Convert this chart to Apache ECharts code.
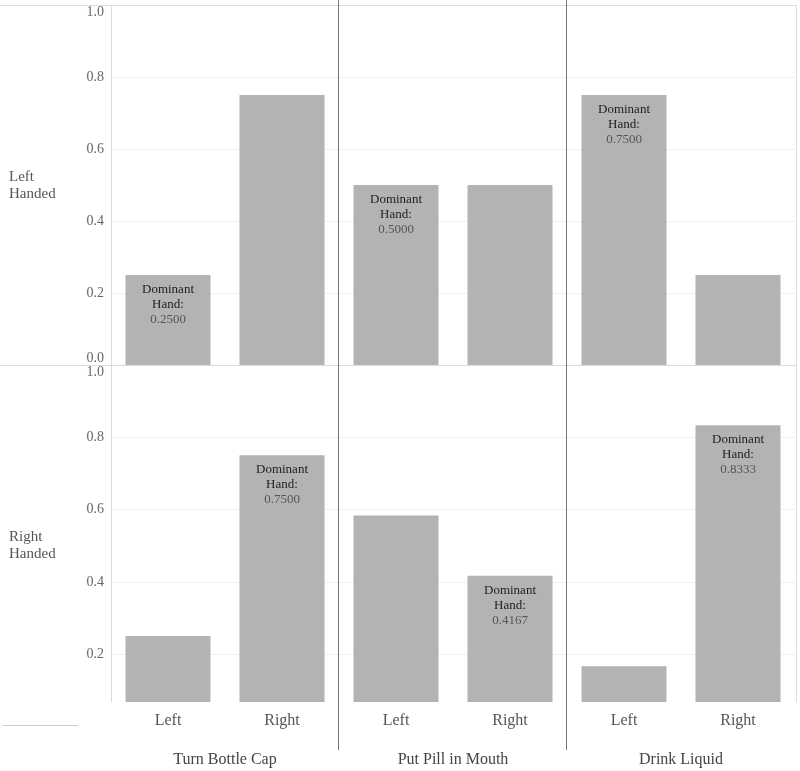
<!DOCTYPE html>
<html>
<head>
<meta charset="utf-8">
<script src="https://cdn.jsdelivr.net/npm/echarts@6/dist/echarts.min.js"></script>
<style>html,body{margin:0;padding:0;background:#fff}#c{width:800px;height:771px}</style>
</head>
<body>
<div id="c"></div>
<script>
const rowNames = ['Left\nHanded', 'Right\nHanded'];
const tasks = ['Turn Bottle Cap', 'Put Pill in Mouth', 'Drink Liquid'];
const hands = ['Left', 'Right'];
// values per task: [Left, Right]
const leftHandedValues = [[0.25, 0.75], [0.5, 0.5], [0.75, 0.25]];
const rightHandedValues = [[0.25, 0.75], [0.5833, 0.4167], [0.1667, 0.8333]];
const dominantHand = ['Left', 'Right']; // dominant hand for each row
const topTicks = [0, 0.2, 0.4, 0.6, 0.8, 1.0];
const bottomTicks = [0.2, 0.4, 0.6, 0.8, 1.0];
const bottomMin = 0.0675;

const FONT = '"Liberation Serif", "Times New Roman", serif';
const rowValues = [leftHandedValues, rightHandedValues];

const colLeft = [111, 339, 567];
const colWidth = 228;
const rowTop = [5, 365];
const rowHeight = [360, 337];

const grids = [], xAxes = [], yAxes = [], series = [];
let idx = 0;
for (let r = 0; r < 2; r++) {
  for (let c = 0; c < 3; c++) {
    grids.push({ left: colLeft[c], top: rowTop[r], width: colWidth, height: rowHeight[r], containLabel: false });
    xAxes.push({
      gridIndex: idx, type: 'category', data: hands,
      axisLine: { show: false }, axisTick: { show: false },
      axisLabel: { show: r === 1, fontFamily: FONT, fontSize: 16, color: '#555', margin: 11 },
      name: r === 1 ? tasks[c] : '', nameLocation: 'middle', nameGap: 50,
      nameTextStyle: { fontFamily: FONT, fontSize: 16, color: '#444' }
    });
    const y = {
      gridIndex: idx, type: 'value', max: 1,
      axisLine: { show: c === 0, lineStyle: { color: '#dcdcdc' } },
      splitLine: { show: true, lineStyle: { color: '#f0f0f0' } },
      axisLabel: {
        show: c === 0, fontFamily: FONT, fontSize: 14, color: '#666', margin: 7,
        formatter: v => v.toFixed(1), verticalAlignMaxLabel: 'top', padding: [0, 0, 0, 0]
      }
    };
    if (r === 0) {
      y.min = 0; y.interval = 0.2;
      y.axisLabel.verticalAlignMinLabel = 'bottom';
      y.axisTick = { show: false };
    } else {
      y.min = bottomMin;
      y.axisTick = { show: false, customValues: bottomTicks };
      y.axisLabel.customValues = bottomTicks;
    }
    yAxes.push(y);
    const vals = rowValues[r][c];
    series.push({
      type: 'bar', xAxisIndex: idx, yAxisIndex: idx, barWidth: 85,
      itemStyle: { color: '#b3b3b3' },
      data: hands.map((h, i) => ({
        value: vals[i],
        label: {
          show: h === dominantHand[r], position: 'insideTop', distance: 7,
          formatter: p => '{a|Dominant}\n{a|Hand:}\n{b|' + p.value.toFixed(4) + '}',
          rich: {
            a: { fontFamily: FONT, fontSize: 13, color: '#222', lineHeight: 15 },
            b: { fontFamily: FONT, fontSize: 13, color: '#555', lineHeight: 15 }
          }
        }
      }))
    });
    idx++;
  }
}

const lineStyleLight = { stroke: '#dcdcdc', lineWidth: 1 };
const graphic = [
  { type: 'line', shape: { x1: 0, y1: 5.5, x2: 796, y2: 5.5 }, style: lineStyleLight, z: 1 },
  { type: 'line', shape: { x1: 0, y1: 365.5, x2: 796, y2: 365.5 }, style: lineStyleLight, z: 1 },
  { type: 'line', shape: { x1: 796.5, y1: 5, x2: 796.5, y2: 702 }, style: lineStyleLight, z: 1 },
  { type: 'line', shape: { x1: 3, y1: 725.5, x2: 78, y2: 725.5 }, style: { stroke: '#cccccc', lineWidth: 1 }, z: 1 },
  { type: 'line', shape: { x1: 338.5, y1: 0, x2: 338.5, y2: 750 }, style: { stroke: '#777', lineWidth: 1 }, z: 10 },
  { type: 'line', shape: { x1: 566.5, y1: 0, x2: 566.5, y2: 750 }, style: { stroke: '#777', lineWidth: 1 }, z: 10 },
  { type: 'text', left: 9, top: 169, style: { text: rowNames[0], font: '15px ' + FONT, fill: '#555', lineHeight: 17 } },
  { type: 'text', left: 9, top: 529, style: { text: rowNames[1], font: '15px ' + FONT, fill: '#555', lineHeight: 17 } }
];

const chart = echarts.init(document.getElementById('c'), null, { renderer: 'canvas' });
chart.setOption({
  animation: false,
  backgroundColor: '#fff',
  grid: grids, xAxis: xAxes, yAxis: yAxes, series: series, graphic: graphic
});
</script>
</body>
</html>
